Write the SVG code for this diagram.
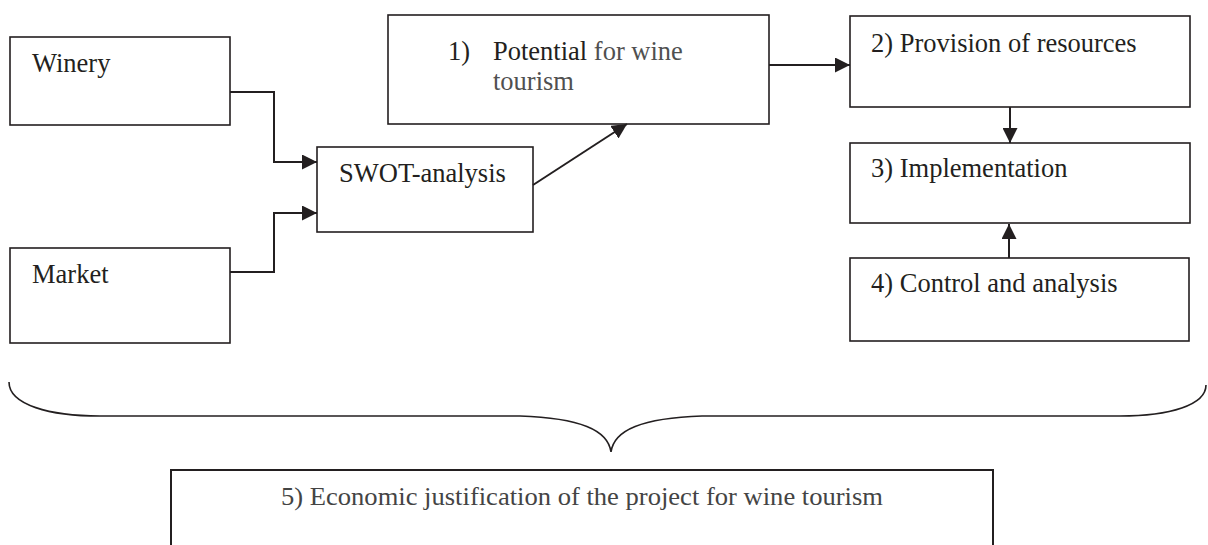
<svg xmlns="http://www.w3.org/2000/svg" width="1208" height="545" viewBox="0 0 1208 545">
<style>
.box{fill:#fff;stroke:#231f20;stroke-width:1.6}
.t{font-family:"Liberation Serif","Times New Roman",serif;font-size:26.5px;fill:#231f20}
.g{fill:#505050}
.c{fill:none;stroke:#231f20;stroke-width:2}
</style>
<defs>
<marker id="ah" viewBox="0 0 10 10" refX="10" refY="5" markerWidth="15" markerHeight="15" markerUnits="userSpaceOnUse" orient="auto">
<path d="M0,0 L10,5 L0,10 z" fill="#231f20"/>
</marker>
</defs>
<rect width="1208" height="545" fill="#fff"/>
<g id="winery"><rect class="box" x="10" y="37" width="220" height="88"/><text class="t" x="32" y="72">Winery</text></g>
<g id="market"><rect class="box" x="10" y="248" width="220" height="95"/><text class="t" x="32" y="283">Market</text></g>
<g id="swot"><rect class="box" x="317" y="147" width="216" height="85"/><text class="t" x="339" y="182">SWOT-analysis</text></g>
<g id="potential"><rect class="box" x="388" y="15" width="381" height="109"/><text class="t" x="448" y="60">1)</text><text class="t" x="493" y="60">Potential <tspan class="g">for wine</tspan></text><text class="t g" x="493" y="90">tourism</text></g>
<g id="provision"><rect class="box" x="850" y="16" width="340" height="91"/><text class="t" x="871" y="52">2) Provision of resources</text></g>
<g id="implementation"><rect class="box" x="850" y="143" width="340" height="80"/><text class="t" x="871" y="177">3) Implementation</text></g>
<g id="control"><rect class="box" x="850" y="258" width="339" height="83"/><text class="t" x="871" y="292">4) Control and analysis</text></g>
<g id="economic"><rect class="box" x="171" y="470" width="822" height="90" style="stroke-width:2"/><text class="t" x="281" y="505" style="font-size:26px;fill:#444" textLength="602" lengthAdjust="spacingAndGlyphs">5) Economic justification of the project for wine tourism</text></g>
<g id="connectors">
<path class="c" d="M230,92 H274 V162 H317" marker-end="url(#ah)"/>
<path class="c" d="M230,272 H274 V213 H317" marker-end="url(#ah)"/>
<path class="c" d="M533,185 L627,124" marker-end="url(#ah)"/>
<path class="c" d="M769,65 H850" marker-end="url(#ah)"/>
<path class="c" d="M1010,107 V143" marker-end="url(#ah)"/>
<path class="c" d="M1009,258 V224" marker-end="url(#ah)"/>
<path d="M9,382 C9,405 50,416 100,416 L520,416 C580,418 608,430 611,452 C614,430 642,418 702,416 L1120,416 C1170,416 1206,405 1206,385" fill="none" stroke="#231f20" stroke-width="1.6"/>
</g>
</svg>
